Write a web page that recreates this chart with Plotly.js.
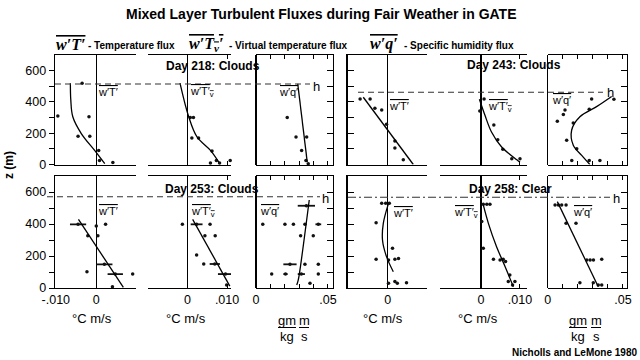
<!DOCTYPE html>
<html><head><meta charset="utf-8">
<script src="https://cdn.plot.ly/plotly-3.0.1.min.js"></script>
<style>html,body{margin:0;padding:0;background:#fff}#chart{width:640px;height:360px}</style>
</head><body><div id="chart"></div>
<script>
// ---------- DATA (fluxes vs height z in m) ----------
const dayLabels = ["Day 218: Clouds", "Day 243: Clouds", "Day 253: Clouds", "Day 258: Clear"];
const hHeights = [515, 462, 570, 567];
const zTickVals = [0, 200, 400, 600];
const zTickText = ["0", "200", "400", "600"];
const zMinorVals = [100, 300, 500];
const xTickVals = [[-0.01, 0, 0.01], [0, 0.01], [0, 0.05], [0, 0.01], [0, 0.01], [0, 0.05]];
const xTickText = [["-.010", "0", ".010"], ["0", ".010"], ["0", ".05"], ["0", ".010"], ["0", ".010"], ["0", ".05"]];
const xMinorVals = [[], [], [0.01, 0.02, 0.03, 0.04], [-0.01], [], [0.01, 0.02, 0.03, 0.04]];

// Day 218
const d218_wT_x = [-0.0035, -0.0095, -0.0018, -0.0045, -0.0016, 0.0006, 0.0008, 0.0041];
const d218_wT_z = [520, 310, 305, 181, 181, 90, 26, 13];
const d218_wT_fx = [-0.0064, -0.0063, -0.0058, -0.0037, -0.0004, 0.0021];
const d218_wT_fz = [520, 415, 305, 198, 90, 5];
const d218_wTv_x = [0.0007, 0.0015, 0.0011, 0.0028, 0.0062, 0.0058, 0.0073, 0.0081, 0.0108];
const d218_wTv_z = [301, 301, 170, 170, 86, 9, 26, 9, 26];
const d218_wTv_fx = [-0.0019, 0.0003, 0.0024, 0.0058, 0.0079];
const d218_wTv_fz = [520, 305, 176, 90, 15];
const d218_wq_x = [0.0217, 0.0278, 0.0352, 0.0317, 0.0347, 0.0363];
const d218_wq_z = [301, 176, 176, 90, 26, 5];
const d218_wq_fx = [0.029, 0.0356];
const d218_wq_fz = [516, 15];

// Day 243
const d243_wT_x = [-0.0069, -0.0044, -0.0032, -0.0015, -0.0003, 0.0018, 0.0018, 0.0039];
const d243_wT_z = [419, 419, 359, 348, 258, 150, 105, 30];
const d243_wT_fx = [-0.0061, 0.0064];
const d243_wT_fz = [430, 0];
const d243_wTv_x = [0.0008, -0.0003, 0.0033, 0.0043, 0.0056, 0.0079, 0.0100, 0.0138];
const d243_wTv_z = [419, 342, 252, 159, 97, 37, 37, 37];
const d243_wTv_fx = [-0.0004, 0.001, 0.0027, 0.0053, 0.0092, 0.0100];
const d243_wTv_fz = [417, 316, 208, 112, 30, 15];
const d243_wq_x = [0.0064, 0.0115, 0.0104, 0.0126, 0.0193, 0.016, 0.0276, 0.0347, 0.0292, 0.0276, 0.017, 0.044];
const d243_wq_z = [277, 348, 320, 155, 101, 26, 26, 26, 419, 353, 266, 417];
const d243_wq_fx = [0.0425, 0.0325, 0.0214, 0.0159, 0.017, 0.0226, 0.028];
const d243_wq_fz = [435, 370, 305, 219, 123, 58, 0];

// Day 253 (horizontal bars = spread of several samples)
const d253_wT_x = [-0.0045, 0.0023, -0.0021, 0.0004, 0.0, -0.0023, 0.002, 0.0047, 0.009, 0.004];
const d253_wT_z = [398, 398, 327, 327, 388, 102, 148, 87, 87, 8];
const d253_wT_err = [0.002, 0, 0, 0, 0, 0, 0.002, 0.0019, 0, 0];
const d253_wT_fx = [-0.0044, 0.0067];
const d253_wT_fz = [429, 4];
const d253_wTv_x = [-0.0013, 0.0023, 0.0057, 0.0044, 0.007, 0.0023, 0.0041, 0.0069, 0.0096, 0.0099];
const d253_wTv_z = [398, 398, 398, 327, 327, 206, 150, 150, 87, 19];
const d253_wTv_err = [0, 0.0015, 0, 0, 0, 0, 0, 0.0013, 0.0019, 0];
const d253_wTv_fx = [0.0013, 0.0107];
const d253_wTv_fz = [429, 12];
const d253_wq_x = [0.035, 0.0047, 0.0201, 0.026, 0.034, 0.0433, 0.031, 0.0398, 0.0236, 0.034, 0.0433, 0.0109, 0.0205, 0.0315, 0.0433, 0.0375];
const d253_wq_z = [514, 398, 398, 398, 398, 398, 327, 327, 148, 148, 148, 87, 87, 87, 87, 29];
const d253_wq_err = [0.006, 0, 0, 0, 0, 0.002, 0, 0, 0.0046, 0, 0, 0, 0.0015, 0.0025, 0, 0];
const d253_wq_fx = [0.037, 0.030, 0.0292, 0.0283];
const d253_wq_fz = [550, 81, 45, 19];

// Day 258
const d258_wT_x = [-0.0015, -0.0005, 0.0004, -0.0029, 0.0012, -0.0029, 0.0002, 0.0018, 0.0027, 0.0002, 0.0018, 0.0024, 0.0047];
const d258_wT_z = [529, 529, 529, 408, 248, 179, 175, 179, 185, 29, 40, 29, 33];
const d258_wT_fx = [0.0002, -0.0011, -0.0013, -0.0003, 0.0014];
const d258_wT_fz = [529, 404, 300, 196, 102];
const d258_wTv_x = [0.0006, 0.0015, 0.0023, 0.0002, 0.0006, 0.0032, 0.0049, 0.0057, 0.0063, 0.0074, 0.007, 0.0087, 0.0081];
const d258_wTv_z = [523, 523, 523, 415, 248, 179, 175, 179, 165, 81, 40, 40, 19];
const d258_wTv_fx = [0.0006, 0.0019, 0.004, 0.0062, 0.0083];
const d258_wTv_fz = [519, 404, 258, 133, 8];
const d258_wq_x = [0.0049, 0.0071, 0.0093, 0.0122, 0.0122, 0.0188, 0.026, 0.0282, 0.0304, 0.0359, 0.0214, 0.0303, 0.0336, 0.0359];
const d258_wq_z = [519, 519, 519, 519, 404, 404, 175, 175, 175, 179, 33, 33, 19, 19];
const d258_wq_fx = [0.0064, 0.0336];
const d258_wq_fz = [540, 8];

// ---------- LAYOUT GEOMETRY ----------
const W = 640, H = 360;
const P = x => x / W, Q = y => 1 - y / H;
const colPx = [[55, 135.5], [148, 231], [256, 333], [347.7, 427.3], [440, 527], [547.7, 627]];
const colRange = [[-0.0102, 0.0097], [-0.0100, 0.0110], [0, 0.0535], [-0.0100, 0.0099], [-0.0105, 0.0118], [0, 0.0527]];
const rowPx = [[55, 164.5], [176, 288]];

const panels = [
  [d218_wT_x, d218_wT_z, null, d218_wT_fx, d218_wT_fz],
  [d218_wTv_x, d218_wTv_z, null, d218_wTv_fx, d218_wTv_fz],
  [d218_wq_x, d218_wq_z, null, d218_wq_fx, d218_wq_fz],
  [d243_wT_x, d243_wT_z, null, d243_wT_fx, d243_wT_fz],
  [d243_wTv_x, d243_wTv_z, null, d243_wTv_fx, d243_wTv_fz],
  [d243_wq_x, d243_wq_z, null, d243_wq_fx, d243_wq_fz],
  [d253_wT_x, d253_wT_z, d253_wT_err, d253_wT_fx, d253_wT_fz],
  [d253_wTv_x, d253_wTv_z, d253_wTv_err, d253_wTv_fx, d253_wTv_fz],
  [d253_wq_x, d253_wq_z, d253_wq_err, d253_wq_fx, d253_wq_fz],
  [d258_wT_x, d258_wT_z, null, d258_wT_fx, d258_wT_fz],
  [d258_wTv_x, d258_wTv_z, null, d258_wTv_fx, d258_wTv_fz],
  [d258_wq_x, d258_wq_z, null, d258_wq_fx, d258_wq_fz]
];

const FONT = "Liberation Sans, Arial, sans-serif";
const traces = [];
const layout = {
  width: W, height: H, margin: {l: 0, r: 0, t: 0, b: 0},
  paper_bgcolor: "#fff", plot_bgcolor: "rgba(0,0,0,0)",
  showlegend: false, font: {family: FONT, color: "#000", size: 12},
  annotations: [], shapes: []
};

panels.forEach((pd, i) => {
  const n = i + 1, r = i < 6 ? 0 : 1, c = i % 6;
  const xs = n === 1 ? "x" : "x" + n, ys = n === 1 ? "y" : "y" + n;
  const pts = {
    type: "scatter", mode: "markers", x: pd[0], y: pd[1], xaxis: xs, yaxis: ys,
    marker: {color: "#111", size: 3.5}, cliponaxis: false, hoverinfo: "skip"
  };
  if (pd[2]) pts.error_x = {type: "data", array: pd[2], visible: true, color: "#111", thickness: 1.8, width: 0};
  traces.push(pts);
  traces.push({
    type: "scatter", mode: "lines", x: pd[3], y: pd[4], xaxis: xs, yaxis: ys,
    line: {color: "#000", width: 1.3, shape: "spline", smoothing: 1}, cliponaxis: false, hoverinfo: "skip"
  });
  const xa = {
    domain: [P(colPx[c][0]), P(colPx[c][1])], range: colRange[c], anchor: ys,
    showline: true, linecolor: "#000", linewidth: 1.3, mirror: "allticks",
    ticks: "inside", ticklen: 4, tickcolor: "#000", tickmode: "array", tickvals: xTickVals[c], ticktext: xTickText[c],
    minor: {tickmode: "array", tickvals: xMinorVals[c], ticks: "inside", ticklen: 4, tickcolor: "#000"},
    showticklabels: r === 1, tickfont: {family: FONT, size: 12.5, color: "#000"},
    zeroline: true, zerolinecolor: "#000", zerolinewidth: 1.1, showgrid: false, fixedrange: true
  };
  const ya = {
    domain: [Q(rowPx[r][1]), Q(rowPx[r][0])], range: [0, 700], anchor: xs,
    showgrid: false, zeroline: false, fixedrange: true, tickmode: "array", tickvals: zTickVals,
    ticktext: zTickText, tickfont: {family: FONT, size: 12.5, color: "#000"}, tickcolor: "#000"
  };
  if (c === 0) {
    Object.assign(ya, {side: "left", showline: true, linecolor: "#000", linewidth: 1.3, ticks: "outside", ticklen: 5, showticklabels: true,
      minor: {tickmode: "array", tickvals: zMinorVals, ticks: "outside", ticklen: 5, tickcolor: "#000"}});
  } else if (c === 3) {
    Object.assign(ya, {side: "left", showline: true, linecolor: "#000", linewidth: 1.3, ticks: "inside", ticklen: 6, showticklabels: false,
      minor: {tickmode: "array", tickvals: zMinorVals, ticks: "inside", ticklen: 6, tickcolor: "#000"}});
  } else if (c === 2 || c === 5) {
    Object.assign(ya, {side: "right", showline: true, linecolor: "#000", linewidth: 1.3, ticks: "inside", ticklen: 6, showticklabels: false,
      tickvals: zTickVals.slice(1), minor: {tickmode: "array", tickvals: zMinorVals, ticks: "inside", ticklen: 6, tickcolor: "#000"}});
  } else {
    Object.assign(ya, {showline: false, ticks: "", showticklabels: false});
  }
  layout[n === 1 ? "xaxis" : "xaxis" + n] = xa;
  layout[n === 1 ? "yaxis" : "yaxis" + n] = ya;
});

// h lines (boundary-layer top)
const hLines = [[55, 310, "y", "6px,4px"], [358, 603, "y4", "6px,4px"], [47, 320, "y7", "6px,4px"], [348, 610, "y10", "8px,3px,2px,3px"]];
hLines.forEach((h, k) => {
  layout.shapes.push({type: "line", xref: "paper", yref: h[2], x0: P(h[0]), x1: P(h[1]), y0: hHeights[k], y1: hHeights[k], line: {color: "#333", width: 1.1, dash: h[3]}});
});

function ann(text, x, y, opt) {
  layout.annotations.push(Object.assign({text, x: P(x), y: Q(y), xref: "paper", yref: "paper", showarrow: false, xanchor: "center", yanchor: "middle", font: {family: FONT, size: 12, color: "#000"}, borderpad: 0}, opt || {}));
}
const OL = s => '<span style="text-decoration:overline">' + s + '</span>';

ann("<b>Mixed Layer Turbulent Fluxes during Fair Weather in GATE</b>", 321, 14, {font: {family: FONT, size: 14, color: "#000"}});
const SERIF = "Liberation Serif, Times New Roman, serif";
ann("<b><i>" + OL("w′T′") + "</i></b>", 55, 44, {xanchor: "left", font: {family: SERIF, size: 16, color: "#000"}});
ann("<b>- Temperature flux</b>", 87, 45, {xanchor: "left", font: {family: FONT, size: 10, color: "#000"}});
ann("<b><i>" + OL("w′T<sub>v</sub>′") + "</i></b>", 188, 44, {xanchor: "left", font: {family: SERIF, size: 16, color: "#000"}});
ann("<b>- Virtual temperature flux</b>", 228, 45, {xanchor: "left", font: {family: FONT, size: 10, color: "#000"}});
ann("<b><i>" + OL("w′q′") + "</i></b>", 369, 44, {xanchor: "left", font: {family: SERIF, size: 16, color: "#000"}});
ann("<b>- Specific humidity flux</b>", 403, 45, {xanchor: "left", font: {family: FONT, size: 10, color: "#000"}});
ann("<b>z (m)</b>", 9, 165, {textangle: -90, font: {family: FONT, size: 12, color: "#000"}});

const dayPos = [[213, 66], [514, 65], [212, 189], [510, 189]];
dayLabels.forEach((t, k) => ann("<b>" + t + "</b>", dayPos[k][0], dayPos[k][1], {font: {family: FONT, size: 12, color: "#000"}}));

const inLab = [OL("w′T′"), OL("w′T′<sub>v</sub>"), OL("w′q′")];
const inPos = [[97, 92], [189, 92], [278, 92], [388, 106], [487, 107], [551, 100],
               [97, 211], [190, 212], [259, 211], [392, 213], [453, 213], [572, 212]];
inPos.forEach((p, k) => ann(inLab[k % 3], p[0], p[1], {xanchor: "left", font: {family: FONT, size: 11, color: "#000"}}));

const hPos = [[316, 86], [610, 93], [325, 198], [616, 198]];
hPos.forEach(p => ann("h", p[0], p[1], {font: {family: FONT, size: 13, color: "#000"}}));

[92, 186, 383, 478].forEach(x => ann("°C m/s", x, 318, {font: {family: FONT, size: 13, color: "#000"}}));
[[287, 304], [578, 596]].forEach(f => {
  ann("gm", f[0], 320, {font: {family: FONT, size: 13, color: "#000"}});
  ann("kg", f[0], 336, {font: {family: FONT, size: 13, color: "#000"}});
  ann("m", f[1], 320, {font: {family: FONT, size: 13, color: "#000"}});
  ann("s", f[1], 336, {font: {family: FONT, size: 13, color: "#000"}});
  layout.shapes.push({type: "line", xref: "paper", yref: "paper", x0: P(f[0] - 9), x1: P(f[0] + 9), y0: Q(327.5), y1: Q(327.5), line: {color: "#000", width: 1}});
  layout.shapes.push({type: "line", xref: "paper", yref: "paper", x0: P(f[1] - 5), x1: P(f[1] + 5), y0: Q(327.5), y1: Q(327.5), line: {color: "#000", width: 1}});
});
ann("<b>Nicholls and LeMone 1980</b>", 638, 352, {xanchor: "right", font: {family: FONT, size: 10, color: "#000"}});

Plotly.newPlot("chart", traces, layout, {staticPlot: true, displayModeBar: false});
</script></body></html>
